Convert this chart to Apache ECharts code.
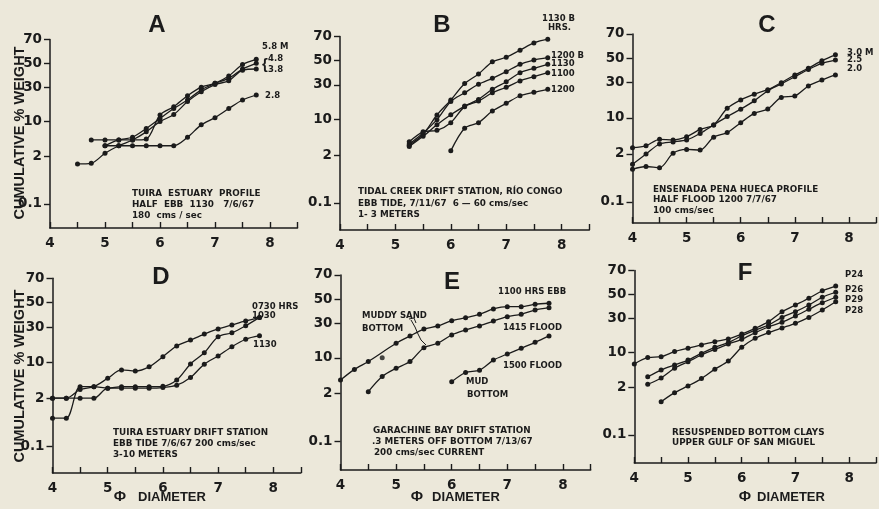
<!DOCTYPE html>
<html><head><meta charset="utf-8">
<script src="https://cdn.jsdelivr.net/npm/echarts@6/dist/echarts.min.js"></script>
<style>html,body{margin:0;padding:0;background:#ece8da}#c{width:879px;height:509px}</style>
</head><body><div id="c"></div>
<script>
// ---------- data (cumulative % weight vs phi diameter) ----------
const _ = null;
const PHI = [4.0,4.25,4.5,4.75,5.0,5.25,5.5,5.75,6.0,6.25,6.5,6.75,7.0,7.25,7.5,7.75];
const X_TICK_LABELS = ['4','5','6','7','8'];
const Y_TICK_PCT = [70,50,30,10,2,0.1];
const Y_TICK_LABELS = ['70','50','30','10','2','0.1'];
// Panel A
const a58 = [_,_,_,4.6,4.6,4.6,4.6,4.8,12.8,17,23.8,30,33,39,49,53.5];
const a48 = [_,_,_,_,3.5,4.6,5.2,7.6,11.3,16,21,28,33,37,45,50];
const a38 = [_,_,1.35,1.4,2.4,3.5,4.6,6.6,10,13,20,26.6,32,35,44,45];
const a28 = [_,_,_,_,3.5,3.5,3.5,3.5,3.5,3.5,5.2,8.8,11.6,16,21,24.3];
// Panel B
const b1130B = [_,_,_,_,_,3.3,5.5,11.9,19.6,31,38.6,49,53,59,65,68];
const b1200B = [_,_,_,_,_,3.5,5.8,10,18.8,24.3,30.4,35.1,40.6,46.9,50.6,52.6];
const b1130 = [_,_,_,_,_,3.1,5.0,8.2,12,16.2,20,26.7,32.4,39.7,43.4,46.9];
const b1100 = [_,_,_,_,_,3.9,6.1,6.5,8.9,15.9,19,24.3,28.2,33,36.4,39.7];
const b1200 = [_,_,_,_,_,_,_,_,2.5,7.1,8.9,13.7,17.7,22.3,24.6,26.7];
// Panel C
const c30 = [2.73,3.0,4.07,3.95,4.6,6.3,7.6,14.1,18.5,22,25,30,36,41.5,48,53];
const c25 = [1.13,1.98,3.27,3.6,3.95,5.3,7.6,10.5,13.7,18,24.3,29,34.6,40.5,45.7,48.5];
const c20 = [0.85,1.0,0.93,2.05,2.5,2.43,4.5,5.5,8.3,11.8,13.8,20,20.9,27.6,32,36];
// Panel D
const d0730 = [0.65,0.65,3.55,3.55,3.3,3.55,3.55,3.55,3.6,4.8,9.4,14.1,23.2,25.9,31,37.6];
const d1030 = [2.0,2.0,3.1,3.55,5.2,7.4,7.1,8.4,12.3,17.6,21.1,25,28.6,31.6,34.7,37.6];
const d1130 = [2.0,2.0,2.0,2.0,3.3,3.3,3.3,3.3,3.4,3.8,5.4,9.3,12.6,17.2,21.6,23.9];
// Panel E
const e1100 = [3.9,6.3,8.7,_,16.8,21.1,25.7,27.9,31.9,34.2,37,41.4,43.4,43.4,45.4,46.3];
const eStrayPhi = [4.75];
const eStrayPct = [10.1];
const e1415 = [_,_,2.2,4.6,6.6,8.7,14.5,16.8,21.7,25,27.9,31.6,35,37,40.5,42.5];
const e1500 = [_,_,_,_,_,_,_,_,3.6,5.5,6.1,9.2,11.6,14.2,17.3,21.1];
// Panel F
const f24 = [6.3,8.2,8.5,10.4,11.8,13.3,14.9,16.3,19.1,22.7,27.4,35.1,40.7,46.5,53.1,57.2];
const f26 = [_,3.5,4.8,6.0,7.4,9.7,12.2,14.4,18,21.6,25,30.6,35.1,40.7,47.4,51.8];
const f29 = [_,2.4,3.3,5.2,6.9,9.1,11.3,13.7,16.1,19.9,23.8,27,31.7,37.1,42.7,47.4];
const f28 = [_,_,0.91,1.53,2.2,3.2,5.0,7.1,12.2,16.7,20,23,26.2,30.6,36.5,43.5];

// ---------- probability (probit) scale ----------
function probit(p){
  const a=[-3.969683028665376e+01,2.209460984245205e+02,-2.759285104469687e+02,1.383577518672690e+02,-3.066479806614716e+01,2.506628277459239e+00];
  const b=[-5.447609879822406e+01,1.615858368580409e+02,-1.556989798598866e+02,6.680131188771972e+01,-1.328068155288572e+01];
  const c=[-7.784894002430293e-03,-3.223964580411365e-01,-2.400758277161838e+00,-2.549732539343734e+00,4.374664141464968e+00,2.938163982698783e+00];
  const d=[7.784695709041462e-03,3.224671290700398e-01,2.445134137142996e+00,3.754408661907416e+00];
  const pl=0.02425, ph=1-pl; let q,r;
  if(p<pl){q=Math.sqrt(-2*Math.log(p));return (((((c[0]*q+c[1])*q+c[2])*q+c[3])*q+c[4])*q+c[5])/((((d[0]*q+d[1])*q+d[2])*q+d[3])*q+1);}
  if(p<=ph){q=p-0.5;r=q*q;return (((((a[0]*r+a[1])*r+a[2])*r+a[3])*r+a[4])*r+a[5])*q/(((((b[0]*r+b[1])*r+b[2])*r+b[3])*r+b[4])*r+1);}
  q=Math.sqrt(-2*Math.log(1-p));return -(((((c[0]*q+c[1])*q+c[2])*q+c[3])*q+c[4])*q+c[5])/((((d[0]*q+d[1])*q+d[2])*q+d[3])*q+1);
}
const Z = pct => probit(pct/100);
const Y_TICK_Z = Y_TICK_PCT.map(Z);
const ZMAX = Z(70);

// ---------- layout ----------
const INK = '#1b1b1b';
const DV = 'DejaVu Sans';
const LIB = 'Liberation Sans';
const panels = [
  {left:50,   y0:63.3,  s:45.5, yb:228, xs:55,   data:[a58,a48,a38,a28]},
  {left:340,  y0:60.7,  s:46,   yb:230, xs:55.4, data:[b1130B,b1200B,b1130,b1100,b1200]},
  {left:632.5,y0:58.3,  s:46.5, yb:223, xs:55,   data:[c30,c25,c20]},
  {left:52.5, y0:302.7, s:46.5, yb:473, xs:55.2, data:[d0730,d1030,d1130]},
  {left:340.5,y0:299,   s:46,   yb:470, xs:55.6, data:[e1100,e1415,e1500]},
  {left:634.3,y0:294.3, s:45.5, yb:463, xs:55,   data:[f24,f26,f29,f28]}
];

const grid=[], xAxis=[], yAxis=[], series=[];
panels.forEach((p,i)=>{
  const top = p.y0 - ZMAX*p.s;
  grid.push({left:p.left, top:top, width:4.5*p.xs, height:p.yb-top});
  xAxis.push({type:'value', gridIndex:i, min:4, max:8.5, interval:0.5,
    axisLine:{show:true, onZero:false, lineStyle:{color:INK, width:1.5}},
    axisTick:{show:true, inside:true, length:6, lineStyle:{color:INK, width:1.4}},
    axisLabel:{margin:8, color:INK, fontFamily:DV, fontWeight:'bold', fontSize:13.5,
      formatter:v=>{const k=X_TICK_LABELS.indexOf(String(v)); return k>=0?X_TICK_LABELS[k]:'';}},
    splitLine:{show:false}});
  yAxis.push({type:'value', gridIndex:i, min:-(p.yb-p.y0)/p.s, max:ZMAX,
    axisLine:{show:true, onZero:false, lineStyle:{color:INK, width:1.5}},
    axisTick:{show:true, customValues:Y_TICK_Z, length:6, lineStyle:{color:INK, width:1.4}},
    axisLabel:{customValues:Y_TICK_Z, margin:8, color:INK, fontFamily:DV, fontWeight:'bold', fontSize:13.5,
      formatter:v=>{for(let k=0;k<Y_TICK_Z.length;k++){if(Math.abs(Y_TICK_Z[k]-v)<1e-6)return Y_TICK_LABELS[k];}return '';}},
    splitLine:{show:false}});
  p.data.forEach(arr=>{
    series.push({type:'line', xAxisIndex:i, yAxisIndex:i, smooth:0.3,
      symbol:'circle', symbolSize:5, showSymbol:true,
      itemStyle:{color:INK}, lineStyle:{color:INK, width:1.3},
      data:PHI.map((x,k)=>[x,arr[k]]).filter(d=>d[1]!=null).map(d=>[d[0],Z(d[1])])});
  });
});
series.push({type:'scatter', xAxisIndex:4, yAxisIndex:4, symbol:'circle', symbolSize:5,
  itemStyle:{color:INK}, data:eStrayPhi.map((x,k)=>[x,Z(eStrayPct[k])])});

// ---------- texts ----------
function T(text,x,y,size,opt){
  opt=opt||{};
  return {type:'text', x:x, y:y, rotation:opt.rot||0, silent:true,
    style:{text:text, fill:INK, font:'bold '+size+'px "'+(opt.fam||DV)+'"',
      align:opt.align||'left', verticalAlign:'middle'}};
}
const g = [];
// panel letters
[['A',157,25],['B',442,25],['C',767,25],['D',161,277],['E',452,282],['F',745,273]]
  .forEach(t=>g.push(T(t[0],t[1],t[2],24,{align:'center',fam:LIB})));
// axis titles
g.push(T('CUMULATIVE % WEIGHT',20,133,14.5,{rot:Math.PI/2,align:'center',fam:LIB}));
g.push(T('CUMULATIVE % WEIGHT',20,376,14.5,{rot:Math.PI/2,align:'center',fam:LIB}));
[[120,138],[417,432],[745,757]].forEach(t=>{
  g.push(T('\u03A6',t[0],497,15,{align:'center',fam:LIB}));
  g.push(T('DIAMETER',t[1],497,13,{fam:LIB}));
});
// series labels
const lab = [
  ['5.8 M',262,47],['4.8',268,59],['3.8',268,69.5],['2.8',265,96],
  ['1130 B',542,19],['HRS.',548,28],['1200 B',551,56],['1130',551,63.5],['1100',551,73.5],['1200',551,89.5],
  ['3.0 M',847,53],['2.5',847,60],['2.0',847,68.5],
  ['0730 HRS',252,307],['1030',252,316],['1130',253,344.5],
  ['1100 HRS EBB',498,292],['1415 FLOOD',503,327.5],['1500 FLOOD',503,366],
  ['MUDDY SAND',362,316],['BOTTOM',362,328.5],['MUD',466,382],['BOTTOM',467,395],
  ['P24',845,275],['P26',845,289.5],['P29',845,300],['P28',845,311]
];
lab.forEach(t=>g.push(T(t[0],t[1],t[2],8.5)));
g.push(T('{',262,64.5,15,{fam:LIB}));
// station notes
const notes = [
  ['TUIRA  ESTUARY  PROFILE',132,193.5],['HALF  EBB  1130   7/6/67',132,204.5],['180  cms / sec',132,215.5],
  ['TIDAL CREEK DRIFT STATION, RÍO CONGO',358,192],['EBB TIDE, 7/11/67  6 \u2014 60 cms/sec',358,203.5],['1- 3 METERS',358,215],
  ['ENSENADA PENA HUECA PROFILE',653,189.5],['HALF FLOOD 1200 7/7/67',653,200],['100 cms/sec',653,211],
  ['TUIRA ESTUARY DRIFT STATION',113,433],['EBB TIDE 7/6/67 200 cms/sec',113,444],['3-10 METERS',113,455],
  ['GARACHINE BAY DRIFT STATION',373,431],['.3 METERS OFF BOTTOM 7/13/67',372,442],['200 cms/sec CURRENT',374,452.5],
  ['RESUSPENDED BOTTOM CLAYS',672,433],['UPPER GULF OF SAN MIGUEL',672,443]
];
notes.forEach(t=>g.push(T(t[0],t[1],t[2],8.8)));
// leader lines in E (annotation)
g.push({type:'polyline', silent:true, shape:{points:[[411,320],[415,327],[418,334],[421,340],[426,345]]},
  style:{stroke:INK, lineWidth:1, fill:null}});
g.push({type:'polyline', silent:true, shape:{points:[[409,319],[414,318],[416,323]]},
  style:{stroke:INK, lineWidth:1, fill:null}});

const chart = echarts.init(document.getElementById('c'));
chart.setOption({
  backgroundColor:'#ece8da', animation:false,
  grid:grid, xAxis:xAxis, yAxis:yAxis, series:series, graphic:g
});
</script></body></html>
